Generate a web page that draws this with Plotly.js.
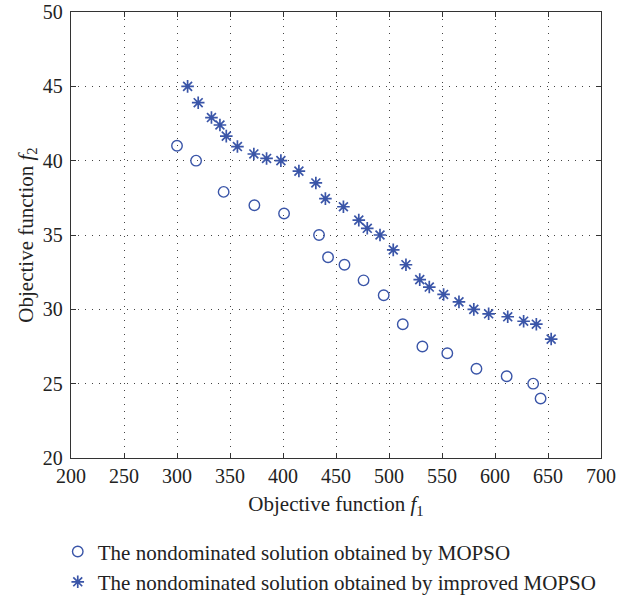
<!DOCTYPE html>
<html>
<head>
<meta charset="utf-8">
<script src="https://cdn.plot.ly/plotly-3.0.1.min.js"></script>
<style>html,body{margin:0;padding:0;background:#fff;}#chart{width:617px;height:597px;}</style>
</head>
<body>
<div id="chart"></div>
<script>
// MOPSO nondominated solutions
const mopsoF1 = [300, 318, 344, 373, 401, 434, 442.5, 458, 476, 495, 513, 531.5, 555, 582.5, 611, 636, 643];
const mopsoF2 = [41, 40, 37.9, 37, 36.45, 35, 33.5, 33, 31.95, 30.95, 29, 27.5, 27.05, 26, 25.5, 25, 24];
// Improved MOPSO nondominated solutions
const impF1 = [310, 320, 332.5, 340.5, 346.5, 357, 372.5, 384.5, 398, 415, 431, 440, 457, 471.5, 479.5, 491.5, 504, 516, 529, 538, 551.5, 566, 580, 594, 612, 627, 639, 653];
const impF2 = [45, 43.9, 42.9, 42.4, 41.65, 40.95, 40.45, 40.15, 40, 39.3, 38.5, 37.45, 36.9, 36, 35.45, 35, 34, 33, 32, 31.5, 31, 30.5, 30, 29.7, 29.5, 29.2, 29, 28];
const xTicks = [200, 250, 300, 350, 400, 450, 500, 550, 600, 650, 700];
const yTicks = [20, 25, 30, 35, 40, 45, 50];
const names = ['The nondominated solution obtained by MOPSO', 'The nondominated solution obtained by improved MOPSO'];

const blue = '#3a55a8';
const font = 'Liberation Serif, DejaVu Serif, serif';

const traces = [
  {x: mopsoF1, y: mopsoF2, mode: 'markers', type: 'scatter', name: names[0],
   marker: {symbol: 'circle-open', size: 10.5, color: blue, line: {width: 1.4, color: blue}}},
  {x: impF1, y: impF2, mode: 'markers', type: 'scatter', name: names[1],
   marker: {symbol: 'asterisk-open', size: 10.5, color: blue, line: {width: 1.7, color: blue}}}
];

const axisCommon = {
  showline: true, mirror: 'ticks', linecolor: '#333', linewidth: 1.2,
  ticks: 'inside', ticklen: 5, tickcolor: '#333', tickwidth: 1,
  showgrid: true, gridcolor: '#444', gridwidth: 1, griddash: '1px,6px',
  zeroline: false, tickfont: {family: font, size: 20, color: '#222'}
};

const layout = {
  width: 617, height: 597,
  margin: {l: 71, r: 16, t: 12, b: 139},
  paper_bgcolor: '#fff', plot_bgcolor: '#fff',
  font: {family: font, color: '#222'},
  xaxis: Object.assign({}, axisCommon, {
    range: [200, 700], tickvals: xTicks, ticktext: xTicks.map(String), ticklabelstandoff: 0,
    title: {text: 'Objective function <i>f</i><sub>1</sub>', font: {family: font, size: 21, color: '#222'}, standoff: 10}
  }),
  yaxis: Object.assign({}, axisCommon, {
    range: [20, 50], tickvals: yTicks, ticktext: yTicks.map(String), ticklabelstandoff: 3,
    title: {text: 'Objective function <i>f</i><sub>2</sub>', font: {family: font, size: 21, color: '#222'}, standoff: 3}
  }),
  showlegend: true,
  legend: {xref: 'paper', yref: 'container', x: -0.025, xanchor: 'left', y: 0.11, yanchor: 'top', orientation: 'v',
    font: {family: font, size: 21, color: '#222'}, bgcolor: 'rgba(0,0,0,0)', tracegroupgap: 0, itemwidth: 30}
};

Plotly.newPlot('chart', traces, layout, {displayModeBar: false, staticPlot: true});
</script>
</body>
</html>
